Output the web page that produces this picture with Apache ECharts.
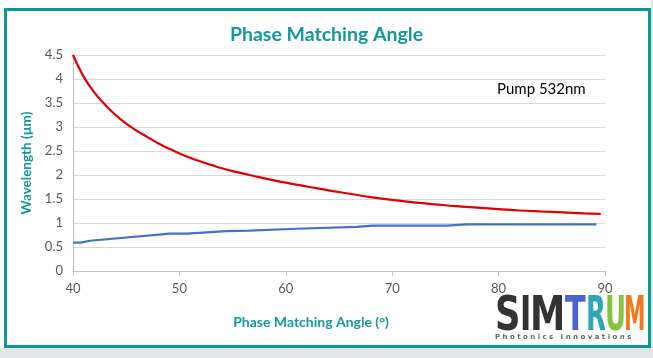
<!DOCTYPE html>
<html>
<head>
<meta charset="utf-8">
<script src="https://cdn.jsdelivr.net/npm/echarts@6/dist/echarts.min.js"></script>
<style>
html,body{margin:0;padding:0;width:653px;height:358px;overflow:hidden;background:#ffffff;}
#bgR{position:absolute;left:651px;top:0;width:2px;height:358px;background:#dfe6e5;}
#bgB{position:absolute;left:0;top:348px;width:653px;height:10px;background:#dfe6e5;}
#frame{position:absolute;left:4px;top:8px;width:641px;height:334px;border:3px solid #0f9793;background:#fff;}
#chart{position:absolute;left:0;top:0;width:653px;height:358px;}
</style>
</head>
<body>
<div id="bgR"></div><div id="bgB"></div><div id="frame"></div>
<div id="chart"></div>
<script>
// Red curve (idler wavelength, µm) vs phase matching angle (°)
var redAngles = [40, 41, 42, 43, 44, 45, 46, 47, 48, 49, 50, 51, 52, 53, 54, 55, 56, 57, 58, 60, 62, 64, 66, 68, 70, 72, 74, 76, 78, 80, 82, 84, 86, 88, 89.6];
var redValues = [4.5, 4.05, 3.72, 3.47, 3.25, 3.07, 2.92, 2.79, 2.66, 2.55, 2.45, 2.36, 2.28, 2.21, 2.14, 2.08, 2.03, 1.98, 1.93, 1.84, 1.76, 1.68, 1.61, 1.54, 1.48, 1.43, 1.39, 1.35, 1.32, 1.29, 1.26, 1.24, 1.22, 1.2, 1.19];
// Blue curve (signal wavelength, µm)
var blueAngles = [40, 40.7, 41.6, 49.1, 50.7, 54.4, 56.6, 61, 66.7, 68.2, 75.1, 77, 89.2];
var blueValues = [0.59, 0.59, 0.63, 0.78, 0.78, 0.83, 0.84, 0.88, 0.92, 0.945, 0.945, 0.97, 0.97];
var xTicks = [40, 50, 60, 70, 80, 90];
var yTicks = [0, 0.5, 1, 1.5, 2, 2.5, 3, 3.5, 4, 4.5];

function pairs(xs, ys){ return xs.map(function(x,i){ return [x, ys[i]]; }); }

var teal = '#14999a';
var chart = echarts.init(document.getElementById('chart'), null, {renderer:'canvas'});
var font = 'Lato, "Open Sans", sans-serif';
var logoFont = '"DejaVu Sans Condensed", "Liberation Sans Narrow", sans-serif';
function letter(ch, x, fill, sx){
  return {type:'text', x:x, y:294, scaleX:sx, z:10,
    style:{text:ch, font:'bold 48px ' + logoFont, fill:fill, textVerticalAlign:'top'}};
}
chart.setOption({
  animation:false,
  backgroundColor:'transparent',
  title:{text:'Phase Matching Angle', left:'center', top:20,
    textStyle:{color:teal, fontSize:19.5, fontWeight:'bold', fontFamily:font}},
  grid:{left:73, right:48, top:55, bottom:87},
  xAxis:{type:'value', min:40, max:90, interval:10,
    name:'Phase Matching Angle (°)', nameLocation:'middle', nameGap:44,
    nameTextStyle:{color:teal, fontSize:14, fontWeight:'bold', fontFamily:font, padding:[0,56,0,0]},
    axisLine:{show:true, lineStyle:{color:'#bfbfbf', width:1}},
    axisTick:{show:true, length:5, lineStyle:{color:'#bfbfbf'}},
    axisLabel:{color:'#595959', fontSize:13, fontFamily:font, margin:11,
      formatter:function(v){ return xTicks.indexOf(v) >= 0 ? String(v) : ''; }},
    splitLine:{show:false}},
  yAxis:{type:'value', min:0, max:4.5, interval:0.5,
    name:'Wavelength (µm)', nameLocation:'middle', nameGap:33, nameRotate:90,
    nameTextStyle:{color:teal, fontSize:13.5, fontWeight:'bold', fontFamily:font},
    axisLine:{show:true, lineStyle:{color:'#bfbfbf', width:1}},
    axisTick:{show:false},
    axisLabel:{color:'#595959', fontSize:13, fontFamily:font, margin:10,
      formatter:function(v){ return yTicks.indexOf(v) >= 0 ? String(v) : ''; }},
    splitLine:{show:true, lineStyle:{color:'#d9d9d9', width:1}}},
  series:[
    {type:'line', data:pairs(redAngles, redValues), smooth:0.4, showSymbol:false,
      lineStyle:{color:'#e00000', width:2.2}, z:3},
    {type:'line', data:pairs(blueAngles, blueValues), smooth:false, showSymbol:false,
      lineStyle:{color:'#4472c4', width:2.2}, z:2}
  ],
  graphic:[
    {type:'text', left:497, top:82, style:{text:'Pump 532nm', font:'15px ' + font, fill:'#000'}},
    letter('S', 495, '#333333', 0.82),
    letter('I', 520, '#333333', 0.7),
    letter('M', 530, '#333333', 0.82),
    letter('T', 565, '#4a62d2', 0.7),
    letter('R', 586, '#2aa8b8', 0.6),
    letter('U', 605, '#86c440', 0.6),
    letter('M', 624, '#f07a24', 0.5),
    {type:'text', left:495, top:334, style:{text:'P h o t o n i c s   I n n o v a t i o n s', font:'bold 7px "DejaVu Sans", sans-serif', fill:'#666'}}
  ]
});
</script>
</body>
</html>
